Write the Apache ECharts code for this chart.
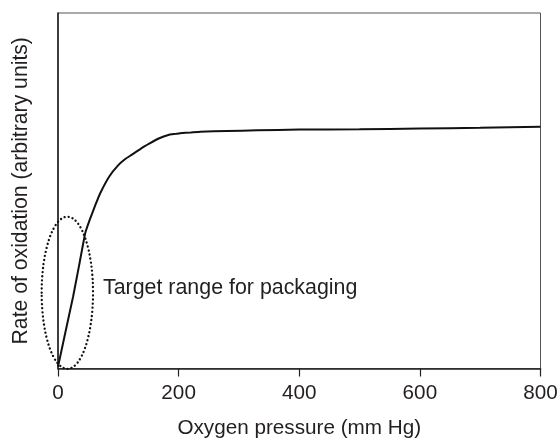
<!DOCTYPE html>
<html>
<head>
<meta charset="utf-8">
<script src="https://cdn.jsdelivr.net/npm/echarts@6/dist/echarts.min.js"></script>
<style>
  html, body { margin: 0; padding: 0; background: #fff; }
  #chart { width: 559px; height: 439px; }
</style>
</head>
<body>
<div id="chart"></div>
<script>
// Oxygen pressure (mm Hg) and relative oxidation rate
const pressure = [0, 12, 25, 35, 45, 53, 62, 70, 85, 100, 112, 122, 137, 152, 167, 183, 195, 202, 220, 236, 280, 330, 400, 500, 600, 700, 800];
const rate     = [0.5, 10, 20.2, 29, 38, 42, 46, 49.3, 54, 57.2, 59, 60.1, 61.8, 63.3, 64.7, 65.7, 66.0, 66.2, 66.4, 66.6, 66.8, 67.0, 67.2, 67.3, 67.5, 67.7, 68.0];
const xTicks   = [0, 200, 400, 600, 800];

// Dotted ellipse marking the packaging range: [centre x, centre y, radius x, radius y] in data units
const targetEllipse = [15.5, 21.3, 42.6, 21.4];
const targetLabel = 'Target range for packaging';
const targetLabelPos = [74.5, 22.6];

const FONT = '"Liberation Sans", Arial, sans-serif';
const INK = '#231f20';

const chart = echarts.init(document.getElementById('chart'), null, { renderer: 'canvas' });

const option = {
  animation: false,
  backgroundColor: '#fff',
  grid: {
    left: 58, right: 18.5, top: 13, bottom: 70.5,
    outerBoundsMode: 'none',
    containLabel: false,
    show: true, borderColor: '#555', borderWidth: 1, backgroundColor: 'transparent'
  },
  xAxis: {
    type: 'value',
    min: xTicks[0], max: xTicks[xTicks.length - 1], interval: 200,
    name: 'Oxygen pressure (mm Hg)',
    nameLocation: 'middle',
    nameGap: 49,
    nameTextStyle: { fontFamily: FONT, fontSize: 20.7, color: INK },
    axisLine: { onZero: false, lineStyle: { color: '#222', width: 1.6 } },
    axisTick: { show: true, inside: false, length: 8, lineStyle: { color: '#222', width: 1.2 } },
    axisLabel: { fontFamily: FONT, fontSize: 20.7, color: INK, margin: 14 },
    splitLine: { show: false }
  },
  yAxis: {
    type: 'value',
    min: 0, max: 100,
    name: 'Rate of oxidation (arbitrary units)',
    nameLocation: 'middle',
    nameRotate: 90,
    nameGap: 26,
    nameTextStyle: { fontFamily: FONT, fontSize: 21.2, color: INK },
    axisLine: { onZero: false, lineStyle: { color: '#222', width: 1.6 } },
    axisTick: { show: false },
    axisLabel: { show: false },
    splitLine: { show: false }
  },
  series: [{
    type: 'line',
    data: pressure.map((p, i) => [p, rate[i]]),
    showSymbol: false,
    smooth: 0.1,
    lineStyle: { color: '#111', width: 2 },
    z: 3
  }]
};

chart.setOption(option);

function drawAnnotations() {
  const c = chart.convertToPixel({ gridIndex: 0 }, [targetEllipse[0], targetEllipse[1]]);
  const e = chart.convertToPixel({ gridIndex: 0 }, [targetEllipse[0] + targetEllipse[2], targetEllipse[1] + targetEllipse[3]]);
  const t = chart.convertToPixel({ gridIndex: 0 }, targetLabelPos);
  chart.setOption({
    graphic: [
      {
        type: 'ellipse',
        shape: { cx: c[0], cy: c[1], rx: Math.abs(e[0] - c[0]), ry: Math.abs(c[1] - e[1]) },
        style: { fill: 'none', stroke: '#111', lineWidth: 2.3, lineDash: [0.1, 4], lineCap: 'round' },
        z: 10
      },
      {
        type: 'text',
        x: t[0], y: t[1],
        style: {
          text: targetLabel, fontFamily: FONT, fontSize: 21.4, fill: INK,
          textAlign: 'left', textVerticalAlign: 'middle'
        },
        z: 10
      }
    ]
  });
}
drawAnnotations();
</script>
</body>
</html>
